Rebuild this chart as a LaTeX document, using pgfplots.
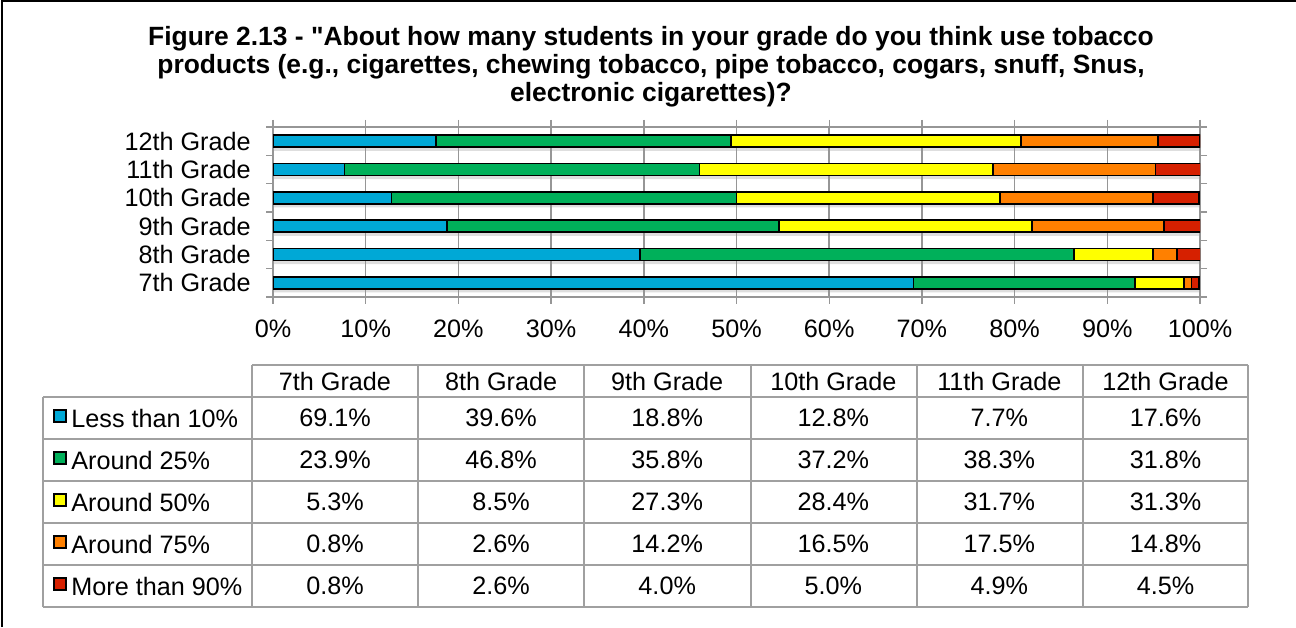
\documentclass[border=0pt]{standalone}
\usepackage{fontspec}
\setmainfont{Liberation Sans}[Ligatures=TeXOff]
\usepackage{pgfplots}
\pgfplotsset{compat=1.18}
\usepackage{pgfplotstable}
\definecolor{cBlue}{RGB}{0,168,214}
\definecolor{cGreen}{RGB}{0,176,90}
\definecolor{cYellow}{RGB}{255,255,0}
\definecolor{cOrange}{RGB}{255,128,0}
\definecolor{cRed}{RGB}{214,32,0}
\definecolor{gridgray}{RGB}{150,150,150}
\definecolor{tablegray}{RGB}{160,160,160}

\pgfplotstableread{
g less a25 a50 a75 m90
0 69.1 23.9 5.3 0.8 0.8
1 39.6 46.8 8.5 2.6 2.6
2 18.8 35.8 27.3 14.2 4.0
3 12.8 37.2 28.4 16.5 5.0
4 7.7 38.3 31.7 17.5 4.9
5 17.6 31.8 31.3 14.8 4.5
}\datatable

\newcommand{\lblfont}{\fontsize{12.6}{14}\selectfont}

\begin{document}
\begin{tikzpicture}[x=0.5pt,y=0.5pt]
\path[use as bounding box] (0,0) rectangle (1296,627);
\draw[line width=1pt] (1.5,0) -- (1.5,625.5) -- (1296,625.5);
% title
\begin{scope}[every node/.style={font=\fontsize{13.2}{15}\selectfont\bfseries, inner sep=0pt}]
\node at (651,588) {Figure 2.13 - "About how many students in your grade do you think use tobacco};
\node at (651,560) {products (e.g., cigarettes, chewing tobacco, pipe tobacco, cogars, snuff, Snus,};
\node at (651,532) {electronic cigarettes)?};
\end{scope}

% shadow axis
\begin{axis}[at={(136.5pt,165pt)}, anchor=south west, scale only axis,
  width=463.5pt, height=85pt, xmin=0, xmax=100, ymin=-0.5, ymax=5.5,
  hide axis, xbar, bar width=6pt]
\addplot[draw=none, fill=black, fill opacity=0.13, yshift=-1.8pt]
  table[y=g, x expr=\thisrow{less}+\thisrow{a25}+\thisrow{a50}+\thisrow{a75}+\thisrow{m90}] {\datatable};
\end{axis}

% main axis
\begin{axis}[at={(136.5pt,165pt)}, anchor=south west, scale only axis,
  width=463.5pt, height=85pt,
  xbar stacked, bar width=6pt,
  xmin=0, xmax=100, ymin=-0.5, ymax=5.5,
  axis line style={gridgray, line width=0.7pt},
  xtick={0,10,...,100}, xmajorgrids,
  grid style={gridgray, line width=0.75pt},
  tick align=outside, major tick length=3.5pt,
  tick style={gridgray, line width=0.7pt},
  /pgf/number format/assume math mode=true,
  xticklabel={\pgfmathprintnumber{\tick}\%},
  xticklabel style={font=\lblfont, anchor=north, inner sep=0pt, yshift=-8pt},
  ytick={-0.5,0.5,1.5,2.5,3.5,4.5,5.5}, yticklabels={},
  extra y ticks={0,1,2,3,4,5},
  extra y tick labels={7th Grade,8th Grade,9th Grade,10th Grade,11th Grade,12th Grade},
  extra y tick style={major tick length=0pt,
     yticklabel style={font=\lblfont, anchor=east, inner sep=0pt, xshift=-11pt}},
  every axis plot/.append style={draw=black, line width=0.8pt},
]
\addplot[fill=cBlue] table[y=g, x=less] {\datatable};
\addplot[fill=cGreen] table[y=g, x=a25] {\datatable};
\addplot[fill=cYellow] table[y=g, x=a50] {\datatable};
\addplot[fill=cOrange] table[y=g, x=a75] {\datatable};
\addplot[fill=cRed] table[y=g, x=m90] {\datatable};
\end{axis}

% data table
\begin{scope}[tablegray, line width=0.75pt]
\draw (252,262) -- (1248,262);
\foreach \py in {397,439,481,523,565,607} {\draw (43,627-\py) -- (1248,627-\py);}
\draw (43,20) -- (43,230);
\foreach \px in {252,418,584,751,917,1083,1248} {\draw (\px,20) -- (\px,262);}
\end{scope}
\begin{scope}[every node/.style={font=\lblfont, inner sep=0pt}]
\foreach \h [count=\c from 0] in {7th Grade,8th Grade,9th Grade,10th Grade,11th Grade,12th Grade}
  {\node at (335+166.1*\c,246) {\h};}
\foreach \lab/\col [count=\r from 0] in {Less than 10\%/cBlue, Around 25\%/cGreen, Around 50\%/cYellow, Around 75\%/cOrange, More than 90\%/cRed}
  {\node[anchor=west] at (71,209-42*\r) {\lab};
   \draw[fill=\col, draw=black, line width=0.6pt] (54,205-42*\r) rectangle (66,217-42*\r);}
\foreach \row [count=\r from 0] in {{69.1,39.6,18.8,12.8,7.7,17.6},{23.9,46.8,35.8,37.2,38.3,31.8},{5.3,8.5,27.3,28.4,31.7,31.3},{0.8,2.6,14.2,16.5,17.5,14.8},{0.8,2.6,4.0,5.0,4.9,4.5}}
  {\foreach \v [count=\c from 0] in \row {\node at (335+166.1*\c,209-42*\r) {\v\%};}}
\end{scope}
\end{tikzpicture}
\end{document}
